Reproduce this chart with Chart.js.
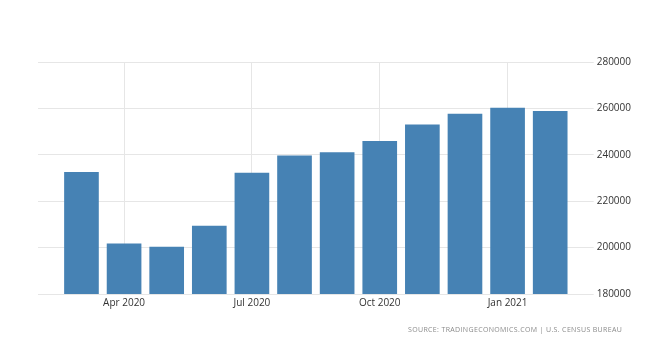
<!DOCTYPE html>
<html><head><meta charset="utf-8">
<script src="https://cdn.jsdelivr.net/npm/chart.js@4/dist/chart.umd.min.js"></script>
<style>
html,body{margin:0;padding:0;background:#fff;}
#wrap{position:relative;width:649px;height:355px;}
#src{position:absolute;left:408px;top:325px;font-family:"Open Sans",sans-serif;font-size:7px;color:#8a8a8a;letter-spacing:0.35px;white-space:nowrap;}
</style></head>
<body><div id="wrap"><canvas id="c" width="649" height="355"></canvas><div id="src">SOURCE: TRADINGECONOMICS.COM | U.S. CENSUS BUREAU</div></div>
<script>
const months = ["Mar 2020","Apr 2020","May 2020","Jun 2020","Jul 2020","Aug 2020","Sep 2020","Oct 2020","Nov 2020","Dec 2020","Jan 2021","Feb 2021"];
const values = [232400,201600,200200,209300,232100,239600,241000,245800,252900,257500,260100,258700];
const xTickIndex = [1,4,7,10];
const yTicks = [180000,200000,220000,240000,260000,280000];

const pts = values.map((v,i)=>({x:i,y:v}));
new Chart(document.getElementById('c'),{
  type:'bar',
  data:{datasets:[{data:pts,backgroundColor:'#4682b4',borderWidth:0,barThickness:34}]},
  options:{
    responsive:false,animation:false,
    layout:{padding:{left:38,top:62,right:15,bottom:43}},
    plugins:{legend:{display:false},tooltip:{enabled:false}},
    scales:{
      x:{type:'linear',min:-1.02,max:11.88,offset:false,
        afterBuildTicks:(s)=>{s.ticks=xTickIndex.map(v=>({value:v}));},
        ticks:{callback:(v)=>months[v],color:'#333',font:{family:'Open Sans',size:10},maxRotation:0,padding:3},
        grid:{color:'#e6e6e6',drawTicks:false,offset:false},border:{display:false}},
      y:{position:'right',min:180000,max:280000,
        afterBuildTicks:(s)=>{s.ticks=yTicks.map(v=>({value:v}));},
        ticks:{callback:(v)=>String(v),color:'#333',font:{family:'Open Sans',size:10},padding:3},
        grid:{color:'#e6e6e6',tickLength:6},border:{display:false}}
    }
  }
});
</script></body></html>
